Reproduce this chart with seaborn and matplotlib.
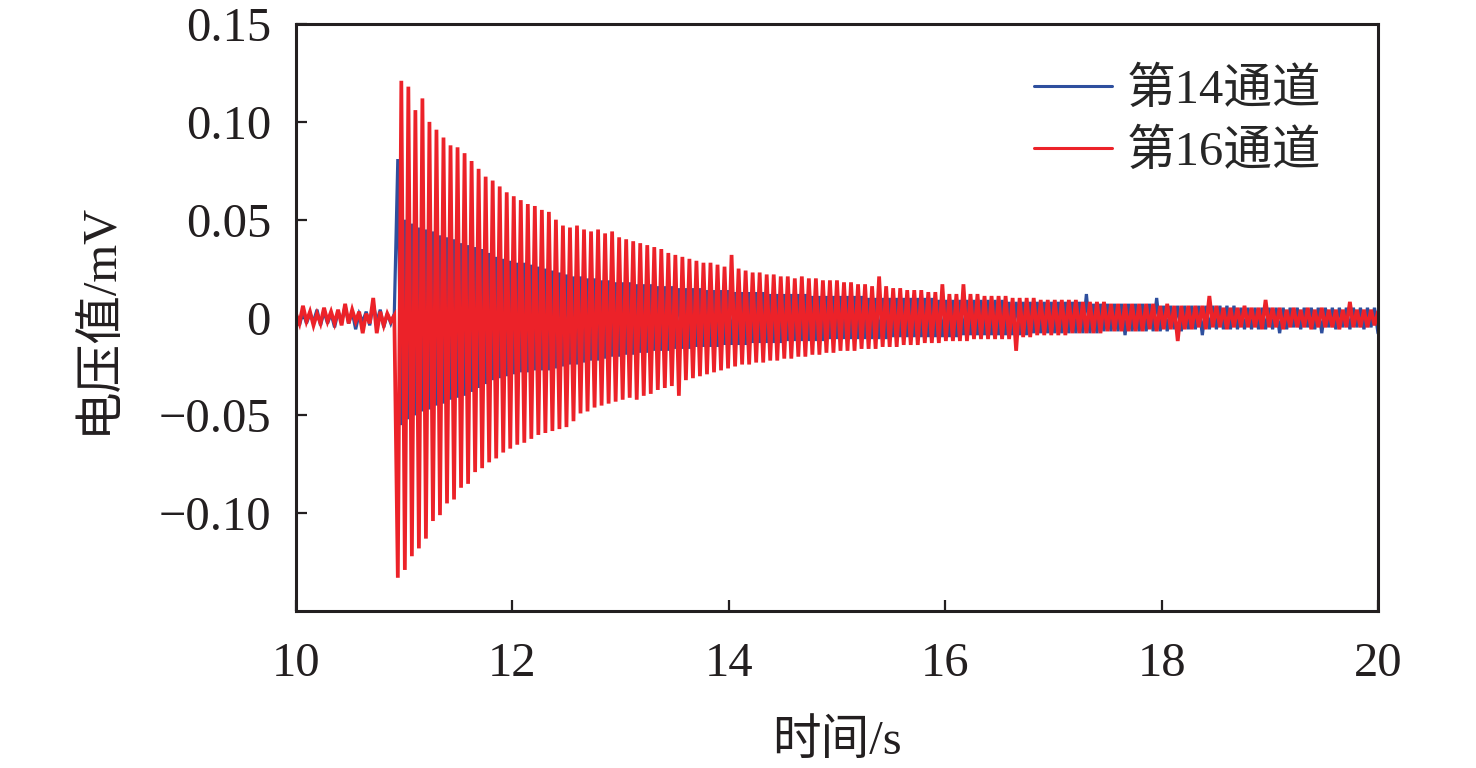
import numpy as np
import pandas as pd
import seaborn as sns
import matplotlib.pyplot as plt
from matplotlib.lines import Line2D

# voltage at each sample, in 0.001 mV
ch14 = [1, -4, 3, -3, 2, -2, 4, -4, 3, -3, 2, -5, 3, -2, 6, -3, 3, -6, 2, -2,
        3, -4, 7, -2, 4, -5, 2, -3, 2,
        81,
        -55, 50, -52, 48, -50, 46, -48, 45, -47, 44,
        -45, 42, -44, 41, -42, 40, -41, 38, -40, 37,
        -38, 36, -36, 35, -34, 33, -32, 31, -31, 30,
        -30, 29, -29, 28, -28, 28, -28, 27, -27, 26,
        -27, 25, -27, 24, -26, 23, -25, 22, -24, 21,
        -24, 21, -23, 20, -22, 20, -22, 19, -21, 19,
        -20, 18, -20, 18, -19, 18, -19, 17, -18, 17,
        -18, 17, -17, 16, -17, 16, -17, 16, -16, 15,
        -16, 15, -16, 15, -15, 15, -15, 14, -15, 14,
        -15, 14, -14, 14, -14, 13, -14, 13, -14, 13,
        -13, 13, -13, 13, -13, 12, -13, 12, -13, 12,
        -12, 12, -12, 12, -12, 12, -12, 11, -12, 11,
        -12, 11, -11, 11, -11, 11, -11, 11, -11, 11,
        -11, 11, -11, 10, -11, 10, -11, 10, -11, 10,
        -10, 10, -10, 10, -10, 10, -10, 10, -10, 10,
        -10, 10, -10, 9, -10, 9, -10, 9, -10, 9,
        -9, 9, -9, 9, -9, 9, -9, 9, -9, 9,
        -9, 9, -9, 8, -9, 8, -9, 8, -9, 8,
        -8, 8, -8, 8, -8, 8, -8, 8, -8, 8,
        -8, 8, -8, 8, -8, 12, -8, 7, -8, 7,
        -7, 7, -7, 7, -7, 7, -9, 7, -7, 7,
        -7, 7, -7, 7, -7, 10, -7, 6, -7, 6,
        -6, 6, -7, 6, -6, 6, -6, 6, -9, 6,
        -6, 6, -6, 6, -6, 6, -6, 6, -6, 5,
        -6, 5, -6, 5, -6, 5, -6, 5, -6, 5,
        -8, 5, -6, 5, -5, 5, -6, 5, -5, 5,
        -6, 5, -8, 5, -5, 5, -6, 5, -5, 5,
        -6, 5, -5, 5, -6, 5, -5, 5, -8]

ch16 = [2, -3, 6, -2, 3, -4, 2, -3, 5, -2, 3, -3, 4, -4, 7, -3, 4, -2, 3, -8,
        2, -3, 10, -8, 3, -4, 2, -2, 1,
        -133,
        121, -129, 118, -122, 106, -118, 112, -113, 100, -104,
        96, -101, 92, -95, 88, -93, 87, -87, 84, -85,
        80, -79, 76, -77, 72, -74, 70, -72, 67, -69,
        64, -67, 62, -65, 60, -64, 58, -62, 57, -60,
        55, -59, 54, -58, 50, -57, 47, -56, 46, -53,
        47, -49, 45, -48, 44, -46, 45, -45, 43, -44,
        44, -43, 41, -42, 40, -41, 39, -42, 38, -40,
        37, -39, 36, -37, 35, -36, 33, -35, 32, -40,
        31, -32, 30, -31, 29, -30, 28, -29, 28, -28,
        27, -27, 26, -26, 32, -25, 25, -24, 24, -24,
        23, -23, 23, -23, 22, -22, 22, -22, 21, -21,
        21, -21, 20, -20, 21, -20, 20, -19, 20, -19,
        19, -18, 19, -18, 19, -17, 18, -17, 18, -17,
        17, -16, 17, -16, 16, -16, 21, -15, 16, -15,
        15, -15, 15, -14, 14, -14, 14, -14, 14, -13,
        13, -13, 13, -13, 17, -12, 12, -12, 12, -12,
        17, -12, 12, -11, 12, -11, 11, -11, 11, -11,
        11, -11, 11, -11, 10, -17, 10, -10, 10, -10,
        10, -9, 9, -9, 9, -9, 9, -9, 9, -9,
        9, -8, 9, -8, 8, -8, 8, -8, 8, -8,
        8, -7, 7, -7, 7, -7, 7, -7, 7, -7,
        7, -7, 7, -6, 7, -7, 6, -6, 7, -6,
        6, -12, 6, -6, 6, -6, 6, -5, 6, -6,
        11, -5, 6, -5, 5, -6, 5, -5, 5, -5,
        6, -5, 5, -5, 5, -6, 9, -5, 5, -5,
        5, -6, 4, -5, 5, -5, 4, -5, 5, -6,
        4, -5, 5, -5, 4, -5, 4, -6, 4, -5,
        8, -5, 4, -5, 4, -5, 4, -4, 3]

t_start, t_end = 10, 20
labels = ["第14通道", "第16通道"]
colors = ["#2e4f9e", "#ec2229"]
xticks = [10, 12, 14, 16, 18, 20]
yticks = [-0.10, -0.05, 0, 0.05, 0.10, 0.15]
ytick_labels = ["\u22120.10", "\u22120.05", "0", "0.05", "0.10", "0.15"]

t = np.linspace(t_start, t_end, len(ch14))
df = pd.DataFrame({
    "t": np.concatenate([t, t]),
    "v": np.array(ch14 + ch16) / 1000,
    "ch": [labels[0]] * len(ch14) + [labels[1]] * len(ch16),
})

sns.set_theme(style="ticks")
plt.rcParams["font.family"] = ["Liberation Serif", "Noto Sans CJK SC"]
ink = "#231f20"

fig = plt.figure(figsize=(14.76, 7.68), dpi=100)
ax = fig.add_axes([0.2005, 0.2044, 0.7331, 0.7643])
sns.lineplot(data=df, x="t", y="v", hue="ch", palette=colors, estimator=None,
             sort=False, lw=2.3, legend=False, ax=ax)
ax.lines[1].set_linewidth(2.7)
for ln in ax.lines:
    ln.set_solid_joinstyle("miter")

ax.set_xlim(t_start, t_end)
ax.set_ylim(-0.15, 0.15)
ax.set_xticks(xticks)
ax.set_yticks(yticks)
ax.set_yticklabels(ytick_labels)
for s in ax.spines.values():
    s.set_visible(True)
    s.set_color(ink)
    s.set_linewidth(2.2)
ax.tick_params(direction="in", length=8, width=1.6, colors=ink, labelsize=35,
               top=False, right=False)
ax.tick_params(axis="x", pad=22)
ax.tick_params(axis="y", pad=18)
ax.set_xlabel("时间/s", fontsize=35, color=ink, labelpad=24)
ax.set_ylabel("电压值/mV", fontsize=35, color=ink, labelpad=26)

handles = [Line2D([], [], color=c, lw=2.2) for c in colors]
ax.legend(handles, labels, frameon=False, fontsize=35, loc="upper left",
          bbox_to_anchor=(0.7005, 0.912), bbox_transform=fig.transFigure,
          handlelength=1.6, handletextpad=0.3, labelspacing=0.34,
          borderpad=0, borderaxespad=0)

fig.savefig("out.png", dpi=100)
